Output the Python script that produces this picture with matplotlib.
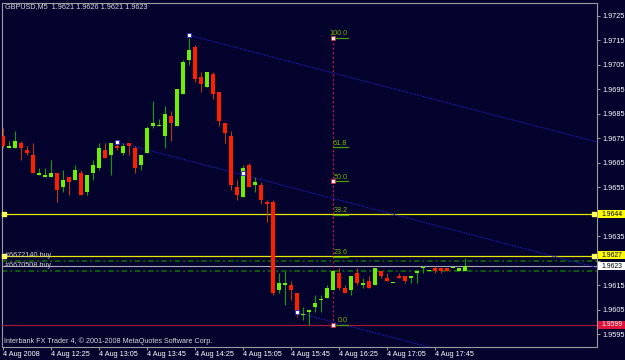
import matplotlib
matplotlib.use("Agg")
import matplotlib.pyplot as plt
import matplotlib.transforms as mtransforms
from matplotlib.patches import Rectangle
import numpy as np

plt.rcParams['font.family'] = ['Liberation Sans', 'DejaVu Sans']

# GBPUSD M5 candles, 4 Aug 2008 from 11:45
opens = [1.9676, 1.9671, 1.9671, 1.9673, 1.9670, 1.9668, 1.9660, 1.9659, 1.9659, 1.9661,
         1.9655, 1.9659, 1.9658, 1.9661, 1.9653, 1.9661, 1.9663, 1.9670, 1.9668, 1.9672,
         1.9669, 1.9673, 1.9671, 1.9664, 1.9669, 1.9680, 1.9680, 1.9676, 1.9684, 1.9680,
         1.9693, 1.9707, 1.9712, 1.9700, 1.9696, 1.9701, 1.9694, 1.9681, 1.9676, 1.9655,
         1.9651, 1.9664, 1.9656, 1.9656, 1.9649, 1.9649, 1.9613, 1.9615, 1.9615, 1.9612,
         1.9603, 1.9604, 1.9606, 1.9609, 1.9610, 1.9613, 1.9620, 1.9614, 1.9613, 1.9620,
         1.9615, 1.9617, 1.9615, 1.9621, 1.9618, 1.9616, 1.9619, 1.9619, 1.9618, 1.9620,
         1.9622, 1.9621, 1.9622, 1.9622, 1.9622, 1.9622, 1.9621, 1.9621]
highs = [1.9679, 1.9674, 1.9678, 1.9674, 1.9672, 1.9673, 1.9663, 1.9663, 1.9666, 1.9661,
         1.9662, 1.9659, 1.9664, 1.9662, 1.9660, 1.9666, 1.9673, 1.9673, 1.9673, 1.9673,
         1.9673, 1.9673, 1.9672, 1.9668, 1.9680, 1.9690, 1.9683, 1.9688, 1.9686, 1.9695,
         1.9707, 1.9716, 1.9713, 1.9702, 1.9702, 1.9702, 1.9694, 1.9681, 1.9678, 1.9658,
         1.9664, 1.9665, 1.9659, 1.9657, 1.9650, 1.9650, 1.9620, 1.9621, 1.9617, 1.9612,
         1.9606, 1.9605, 1.9611, 1.9611, 1.9615, 1.9621, 1.9622, 1.9615, 1.9619, 1.9622,
         1.9618, 1.9619, 1.9622, 1.9621, 1.9620, 1.9616, 1.9620, 1.9619, 1.9619, 1.9621,
         1.9623, 1.9621, 1.9623, 1.9622, 1.9622, 1.9622, 1.9622, 1.9626]
lows = [1.9671, 1.9671, 1.9671, 1.9666, 1.9668, 1.9661, 1.9660, 1.9659, 1.9659, 1.9649,
        1.9653, 1.9652, 1.9658, 1.9652, 1.9652, 1.9658, 1.9662, 1.9667, 1.9660, 1.9670,
        1.9668, 1.9668, 1.9661, 1.9662, 1.9669, 1.9679, 1.9680, 1.9671, 1.9674, 1.9680,
        1.9693, 1.9705, 1.9698, 1.9694, 1.9696, 1.9691, 1.9680, 1.9673, 1.9654, 1.9650,
        1.9651, 1.9655, 1.9653, 1.9648, 1.9641, 1.9611, 1.9612, 1.9607, 1.9609, 1.9602,
        1.9601, 1.9599, 1.9604, 1.9604, 1.9610, 1.9613, 1.9613, 1.9612, 1.9611, 1.9615,
        1.9614, 1.9614, 1.9615, 1.9618, 1.9617, 1.9616, 1.9618, 1.9616, 1.9616, 1.9616,
        1.9620, 1.9621, 1.9620, 1.9620, 1.9621, 1.9622, 1.9621, 1.9621]
closes = [1.9672, 1.9672, 1.9674, 1.9671, 1.9669, 1.9661, 1.9661, 1.9660, 1.9661, 1.9654,
          1.9658, 1.9657, 1.9662, 1.9652, 1.9660, 1.9664, 1.9671, 1.9667, 1.9673, 1.9671,
          1.9672, 1.9672, 1.9663, 1.9668, 1.9679, 1.9681, 1.9680, 1.9685, 1.9681, 1.9695,
          1.9706, 1.9711, 1.9699, 1.9697, 1.9702, 1.9693, 1.9682, 1.9677, 1.9656, 1.9652,
          1.9663, 1.9655, 1.9657, 1.9650, 1.9648, 1.9612, 1.9616, 1.9616, 1.9613, 1.9604,
          1.9603, 1.9605, 1.9608, 1.9609, 1.9614, 1.9621, 1.9614, 1.9612, 1.9619, 1.9616,
          1.9616, 1.9614, 1.9622, 1.9619, 1.9617, 1.9616, 1.9618, 1.9617, 1.9619, 1.9621,
          1.9622, 1.9621, 1.9621, 1.9621, 1.9621, 1.9622, 1.9622, 1.9623]

time_tick_bars = [0, 8, 16, 24, 32, 40, 48, 56, 64, 72]
time_tick_labels = ["4 Aug 2008", "4 Aug 12:25", "4 Aug 13:05", "4 Aug 13:45", "4 Aug 14:25",
                    "4 Aug 15:05", "4 Aug 15:45", "4 Aug 16:25", "4 Aug 17:05", "4 Aug 17:45"]
price_ticks = [1.9595, 1.9605, 1.9615, 1.9625, 1.9635, 1.9645, 1.9655,
               1.9665, 1.9675, 1.9685, 1.9695, 1.9705, 1.9715, 1.9725]
# these two labels sit under the price tags in the screenshot
hidden_ticks = [1.9625, 1.9645]

# horizontal lines / price tags
hline_yellow = [1.9644, 1.9627]
bid_price = 1.9623
low_line = 1.9599
order_lines = [1.9625, 1.9621]
order_labels = ["#6672140 buy", "#6670508 buy"]
order_label_prices = [1.9627, 1.9623]

# channel (start bar, start price) and slope per bar
channel_starts = [(31, 1.9717), (19, 1.96735), (49, 1.9604)]
channel_slope = -0.000064
channel_marks_bar = [31, 19, 40, 49]
channel_marks_price = [1.9717, 1.96735, 1.9661, 1.9604]

# fibonacci retracement
fib_bar = 55
fib_low, fib_high = 1.9599, 1.9716
fib_levels = [0.0, 23.6, 38.2, 50.0, 61.8, 100.0]

bg = '#03032e'
px = 0.0000407  # price per pixel
fig = plt.figure(figsize=(6.25, 3.6), dpi=100, facecolor=bg)
ax = fig.add_axes([2 / 625, 13 / 360, 595 / 625, 344 / 360], facecolor=bg)

o = np.array(opens); h = np.array(highs); l = np.array(lows); c = np.array(closes)
x = np.arange(len(o))
up = c >= o
dn = ~up

ax.vlines(x[up], l[up], h[up], color='#169a12', lw=0.8, zorder=4)
ax.vlines(x[dn], l[dn], h[dn], color='#b43c14', lw=0.8, zorder=4)
ax.bar(x[up], np.maximum(c - o, px)[up], bottom=o[up], width=0.66,
       color='#6cf000', lw=0, zorder=5)
ax.bar(x[dn], np.maximum(o - c, px)[dn], bottom=c[dn], width=0.66,
       color='#ff1e00', lw=0, zorder=5)

# lines
for p in hline_yellow:
    ax.axhline(p, color='#e6e600', lw=0.9, zorder=3)
    ax.plot([0.15, 98.6], [p, p], 's', ms=2.6, color='#ffff60', clip_on=False, zorder=6)
ax.axhline(bid_price, color='#a8a8b4', lw=0.8, zorder=3)
ax.axhline(low_line, color='#a0183a', lw=0.9, zorder=3)
for p in order_lines:
    ax.axhline(p, color='#0c740c', lw=1.1, ls=(0, (3.5, 2, 1.2, 2)), zorder=2)
for lab, p in zip(order_labels, order_label_prices):
    ax.text(0.45, p, lab, color='#d0d0d0', fontsize=5.2, va='center', ha='left', zorder=7)

# channel
for b0, p0 in channel_starts:
    xs = np.array([b0, 99.1])
    ax.plot(xs, p0 + channel_slope * (xs - b0), color='#1c1caa', lw=0.8,
            ls=(0, (1.5, 1)), zorder=3)
ax.plot(channel_marks_bar, channel_marks_price, 's', ms=2.6, mfc='white',
        mec='#2424c8', mew=0.6, zorder=7)

# fibonacci
ax.plot([fib_bar, fib_bar], [fib_low, fib_high], color='#c8143c', lw=0.8,
        ls=(0, (2, 2)), zorder=3)
for lv in fib_levels:
    p = fib_low + lv / 100 * (fib_high - fib_low)
    ax.plot([fib_bar, fib_bar + 2.5], [p, p], color='#4a9a00', lw=0.9, zorder=6)
    ax.text(fib_bar + 2.45, p + 0.6 * px, f'{lv:.1f}', color='#7ab400', fontsize=5.2,
            ha='right', va='bottom', zorder=7)
ax.plot([fib_bar] * 3, [fib_high, (fib_high + fib_low) / 2, fib_low], 's', ms=2.2,
        mfc='#ffe8e0', mec='#d02040', mew=0.5, zorder=7)

ax.set_xlim(-0.117, 99.05)
ax.set_ylim(1.95899, 1.97301)

for s in ax.spines.values():
    s.set_color('#9c9c9c')
    s.set_linewidth(0.8)

ax.yaxis.tick_right()
ax.set_yticks(price_ticks)
ax.set_yticklabels(['' if t in hidden_ticks else f'{t:.4f}' for t in price_ticks])
ax.tick_params(axis='y', colors='#9c9c9c', labelcolor='white', length=2.2, width=0.7,
               pad=1.5, labelsize=5.2)
ax.set_xticks(time_tick_bars)
ax.set_xticklabels(time_tick_labels, ha='left')
ax.tick_params(axis='x', colors='#9c9c9c', labelcolor='white', length=2.2, width=0.7,
               pad=1, labelsize=5.2)

# price tags on the right
blend = mtransforms.blended_transform_factory(fig.transFigure, ax.transData)
tags = [(1.9644, '#ffff00', 'black', 0), (1.9627, '#ffff00', 'black', 0.6),
        (bid_price, 'white', 'black', -0.6), (low_line, '#dc143c', '#f4f4f4', 0)]
for p, fc, tc, shift in tags:
    ax.add_patch(Rectangle((598 / 625, p + (shift - 4) * px), 27 / 625, 8 * px,
                           transform=blend, fc=fc, ec='none', clip_on=False, zorder=10))
    ax.text(601 / 625, p + shift * px, f'{p:.4f}', transform=blend, color=tc,
            fontsize=4.9, va='center', ha='left', zorder=11)

fig.text(5 / 625, 1 - 7 / 360, "GBPUSD,M5  1.9621 1.9626 1.9621 1.9623", color='#d8d8d8',
         fontsize=5.2, va='center', ha='left')
fig.text(4 / 625, 1 - 341 / 360, "Interbank FX Trader 4, \u00a9 2001-2008 MetaQuotes Software Corp.",
         color='#d8d8d8', fontsize=5.2, va='center', ha='left')

fig.savefig('out.png', dpi=100, facecolor=bg)
